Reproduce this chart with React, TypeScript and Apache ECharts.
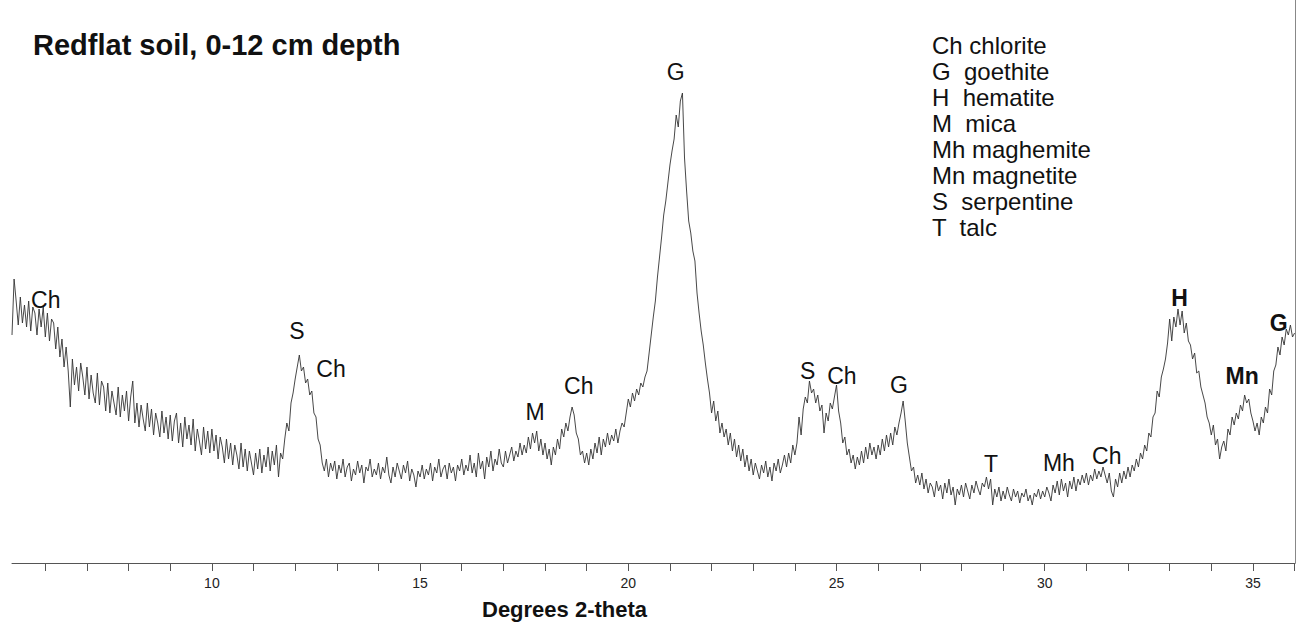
import React, { useEffect, useRef } from "react";
import * as echarts from "echarts";

// Diffractogram sampled every 0.05 degree 2-theta starting at 5.2 (arbitrary intensity units)
const START_ANGLE = 5.2;
const STEP = 0.05;
const intensity = [
  /* 5.20-5.95 */ 228, 284, 262, 238, 266, 240, 258, 236, 262, 232, 256, 250, 228, 254, 236, 256,
  /* 6 */ 226, 250, 222, 244, 240, 214, 236, 206, 224, 196, 216, 192, 156, 204, 178, 196, 172, 200, 186, 168,
  /* 7 */ 196, 164, 188, 170, 160, 190, 158, 182, 176, 152, 180, 150, 172, 160, 148, 176, 146, 168, 152, 172,
  /* 8 */ 142, 166, 182, 140, 160, 136, 158, 144, 132, 160, 136, 154, 128, 150, 140, 126, 152, 130, 146, 124,
  /* 9 */ 148, 122, 142, 150, 120, 140, 116, 146, 124, 138, 118, 144, 112, 134, 122, 108, 136, 114, 132, 110,
  /* 10 */ 134, 112, 128, 104, 126, 116, 100, 124, 104, 120, 98, 118, 108, 94, 120, 96, 114, 92, 112, 100,
  /* 11 */ 88, 110, 94, 114, 90, 108, 96, 116, 92, 112, 98, 118, 86, 110, 104, 124, 140, 132, 160, 170,
  /* 12 */ 184, 196, 208, 192, 196, 180, 184, 168, 172, 150, 146, 124, 118, 100, 92, 104, 86, 100, 92, 102,
  /* 13 */ 84, 98, 90, 104, 86, 96, 100, 82, 94, 88, 102, 90, 98, 80, 96, 92, 104, 86, 94, 88,
  /* 14 */ 100, 84, 96, 90, 106, 88, 80, 96, 86, 100, 92, 84, 98, 90, 102, 82, 94, 88, 76, 92,
  /* 15 */ 86, 98, 84, 94, 88, 100, 82, 96, 90, 104, 86, 94, 98, 84, 100, 90, 96, 82, 98, 92,
  /* 16 */ 104, 88, 98, 92, 108, 90, 100, 86, 110, 94, 102, 84, 106, 96, 112, 92, 104, 98, 114, 100,
  /* 17 */ 96, 112, 100, 108, 116, 102, 112, 106, 120, 108, 118, 110, 126, 114, 130, 120, 132, 112, 124, 108,
  /* 18 */ 120, 104, 114, 98, 116, 108, 124, 114, 134, 126, 140, 132, 146, 156, 148, 130, 124, 108, 112, 100,
  /* 19 */ 110, 98, 114, 104, 120, 110, 126, 108, 124, 116, 130, 118, 128, 122, 134, 120, 132, 140, 136, 150,
  /* 20 */ 164, 156, 170, 162, 174, 168, 180, 176, 186, 192, 210, 228, 246, 262, 286, 306, 326, 348, 362, 380,
  /* 21 */ 398, 412, 424, 448, 436, 462, 470, 405, 372, 342, 330, 312, 302, 270, 250, 232, 218, 200, 184, 170,
  /* 22 */ 150, 162, 142, 152, 130, 140, 126, 134, 118, 130, 112, 124, 106, 118, 102, 114, 96, 108, 92, 104,
  /* 23 */ 88, 100, 92, 84, 98, 90, 102, 86, 96, 82, 100, 92, 104, 90, 98, 108, 96, 110, 100, 118,
  /* 24 */ 108, 120, 146, 128, 154, 166, 160, 182, 170, 174, 160, 168, 152, 158, 130, 150, 142, 160, 154, 166,
  /* 25 */ 178, 152, 140, 120, 126, 108, 114, 100, 108, 94, 106, 98, 112, 100, 116, 104, 120, 108, 116, 104,
  /* 26 */ 118, 108, 124, 112, 128, 116, 130, 118, 136, 128, 140, 150, 162, 142, 120, 106, 92, 96, 80, 88,
  /* 27 */ 78, 90, 74, 84, 70, 80, 76, 66, 82, 72, 78, 64, 80, 70, 84, 68, 76, 58, 74, 68,
  /* 28 */ 78, 66, 80, 72, 64, 78, 70, 82, 74, 68, 80, 76, 86, 74, 84, 58, 74, 66, 76, 62,
  /* 29 */ 72, 64, 76, 68, 62, 74, 66, 72, 60, 70, 66, 74, 62, 68, 58, 70, 66, 74, 64, 72,
  /* 30 */ 66, 76, 70, 62, 78, 70, 82, 68, 84, 72, 80, 66, 82, 74, 86, 72, 84, 78, 88, 80,
  /* 31 */ 90, 78, 88, 82, 94, 84, 92, 86, 96, 88, 80, 90, 72, 66, 84, 76, 90, 80, 92, 84,
  /* 32 */ 96, 86, 98, 92, 104, 96, 110, 104, 118, 112, 130, 126, 146, 150, 172, 166, 186, 194, 204, 220,
  /* 33 */ 244, 222, 246, 236, 254, 238, 252, 230, 240, 222, 218, 204, 210, 190, 192, 176, 168, 160, 146, 140,
  /* 34 */ 128, 138, 118, 124, 104, 116, 122, 112, 134, 128, 146, 138, 150, 144, 158, 152, 168, 160, 164, 150,
  /* 35 */ 142, 132, 140, 128, 146, 140, 156, 150, 174, 168, 192, 198, 216, 208, 226, 218, 234, 228, 238, 226,
  /* 36 */ 230,
];

// Peak annotations (label centre in data coordinates)
const peakNames = ["Ch", "S", "Ch", "M", "Ch", "G", "S", "Ch", "G", "T", "Mh", "Ch", "H", "Mn", "G"];
const peakAngles = [6.01, 12.04, 12.86, 17.76, 18.81, 21.14, 24.31, 25.13, 26.5, 28.71, 30.34, 31.49, 33.24, 34.74, 35.62];
const peakLabelHeights = [263, 232, 194, 151, 177, 491, 192, 187, 178, 99, 100, 107, 265, 187, 240];
const boldPeaks = [false, false, false, false, false, false, false, false, false, false, false, false, true, true, true];

const legendLines = [
  "Ch chlorite",
  "G  goethite",
  "H  hematite",
  "M  mica",
  "Mh maghemite",
  "Mn magnetite",
  "S  serpentine",
  "T  talc",
];

const minorTicks = [6, 7, 8, 9, 10, 11, 12, 13, 14, 15, 16, 17, 18, 19, 20, 21, 22, 23, 24, 25, 26, 27, 28, 29, 30, 31, 32, 33, 34, 35, 36];
const tickLabels = [10, 15, 20, 25, 30, 35];

const FONT = "'Liberation Sans', Arial, Helvetica, sans-serif";

export default function App() {
  const ref = useRef<HTMLDivElement>(null);

  useEffect(() => {
    document.body.style.margin = "0";
    if (!ref.current) return;
    const chart = echarts.init(ref.current, null, { renderer: "svg" });

    const traceData = intensity.map((v, i) => [Number((START_ANGLE + i * STEP).toFixed(2)), v]);
    const labelData = peakNames.map((n, i) => ({
      name: n,
      value: [peakAngles[i], peakLabelHeights[i]],
      label: { fontWeight: boldPeaks[i] ? "bold" : "normal" },
    }));

    chart.setOption({
      animation: false,
      backgroundColor: "#ffffff",
      textStyle: { fontFamily: FONT },
      title: [
        {
          text: "Redflat soil, 0-12 cm depth",
          left: 33,
          top: 30,
          padding: 0,
          textStyle: { fontSize: 29, fontWeight: "bold", color: "#111", fontFamily: FONT },
        },
        {
          text: "Degrees 2-theta",
          left: 482,
          top: 598,
          padding: 0,
          textStyle: { fontSize: 22, fontWeight: "bold", color: "#111", fontFamily: FONT },
        },
      ],
      grid: { left: 12, right: 3, top: 0, bottom: 66 },
      xAxis: {
        type: "value",
        min: 5.2,
        max: 36.01,
        axisLine: { show: true, onZero: false, lineStyle: { color: "#555", width: 1 } },
        axisTick: { show: true, length: 8, customValues: minorTicks, lineStyle: { color: "#555", width: 1 } },
        axisLabel: { customValues: tickLabels, fontSize: 14, color: "#222", margin: 13, fontFamily: FONT },
        splitLine: { show: false },
      },
      yAxis: {
        type: "value",
        min: 0,
        max: 563,
        position: "right",
        axisLine: { show: true, lineStyle: { color: "#888", width: 1 } },
        axisTick: { show: false },
        axisLabel: { show: false },
        splitLine: { show: false },
      },
      graphic: [
        {
          type: "text",
          left: 932,
          top: 32,
          silent: true,
          style: {
            text: legendLines.join("\n"),
            fontSize: 24,
            lineHeight: 26,
            fill: "#111",
            fontFamily: FONT,
          },
        },
      ],
      series: [
        {
          type: "line",
          data: traceData,
          showSymbol: false,
          symbol: "none",
          silent: true,
          lineStyle: { color: "#333333", width: 0.9 },
        },
        {
          type: "scatter",
          data: labelData,
          symbolSize: 0,
          silent: true,
          itemStyle: { opacity: 1 },
          label: {
            show: true,
            position: "inside",
            formatter: "{b}",
            fontSize: 23,
            color: "#111",
            opacity: 1,
            fontFamily: FONT,
          },
        },
      ],
    });

    return () => chart.dispose();
  }, []);

  return <div ref={ref} style={{ width: 1298, height: 629 }} />;
}
